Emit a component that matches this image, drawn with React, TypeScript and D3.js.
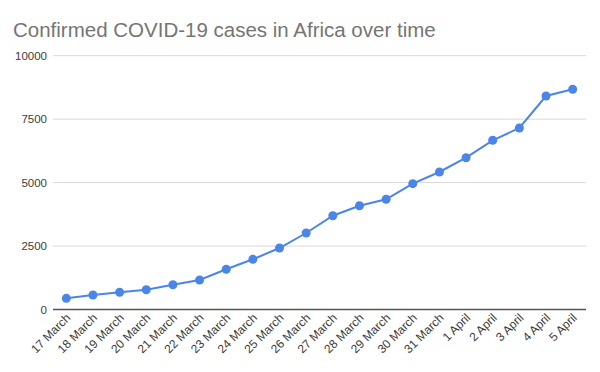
import React from "react";
import * as d3 from "d3";

const dates = [
  "17 March", "18 March", "19 March", "20 March", "21 March", "22 March",
  "23 March", "24 March", "25 March", "26 March", "27 March", "28 March",
  "29 March", "30 March", "31 March", "1 April", "2 April", "3 April",
  "4 April", "5 April",
];
const cases = [
  441, 571, 678, 780, 977, 1162, 1584, 1978, 2423, 3014, 3696, 4090,
  4342, 4957, 5418, 5981, 6667, 7151, 8412, 8676,
];
const yTicks = [0, 2500, 5000, 7500, 10000];
const title = "Confirmed COVID-19 cases in Africa over time";

const W = 600;
const H = 372;
const left = 53;
const right = 586;
const top = 55.7;
const bottom = 309.5;

export default function App() {
  const x = d3.scalePoint<string>().domain(dates).range([left, right]).padding(0.5);
  const y = d3.scaleLinear().domain([0, 10000]).range([bottom, top]);
  const line = d3
    .line<number>()
    .x((_, i) => x(dates[i]) as number)
    .y((d) => y(d));
  const font = "Arial, 'Liberation Sans', sans-serif";
  return (
    <svg
      width={W}
      height={H}
      style={{ position: "absolute", left: 0, top: 0, background: "#fff" }}
      fontFamily={font}
    >
      <text x={13} y={37} fontSize={20.5} fill="#757575">
        {title}
      </text>
      {yTicks.map((t) => (
        <g key={t}>
          {t !== 0 && (
            <line x1={left} x2={right} y1={y(t)} y2={y(t)} stroke="#d9d9d9" strokeWidth={1} />
          )}
          <text x={47} y={y(t)} dy="0.35em" textAnchor="end" fontSize={11.5} fill="#3c3c3c">
            {t}
          </text>
        </g>
      ))}
      <line x1={left} x2={right} y1={bottom} y2={bottom} stroke="#555" strokeWidth={1.3} />
      <path d={line(cases) || ""} fill="none" stroke="#4a86e8" strokeWidth={2} />
      {cases.map((v, i) => (
        <circle key={i} cx={x(dates[i])} cy={y(v)} r={4.5} fill="#4a86e8" />
      ))}
      {dates.map((d) => (
        <text
          key={d}
          transform={`translate(${(x(d) as number) + 5},${bottom + 9}) rotate(-45)`}
          textAnchor="end"
          fontSize={12}
          fill="#3c3c3c"
        >
          {d}
        </text>
      ))}
    </svg>
  );
}
